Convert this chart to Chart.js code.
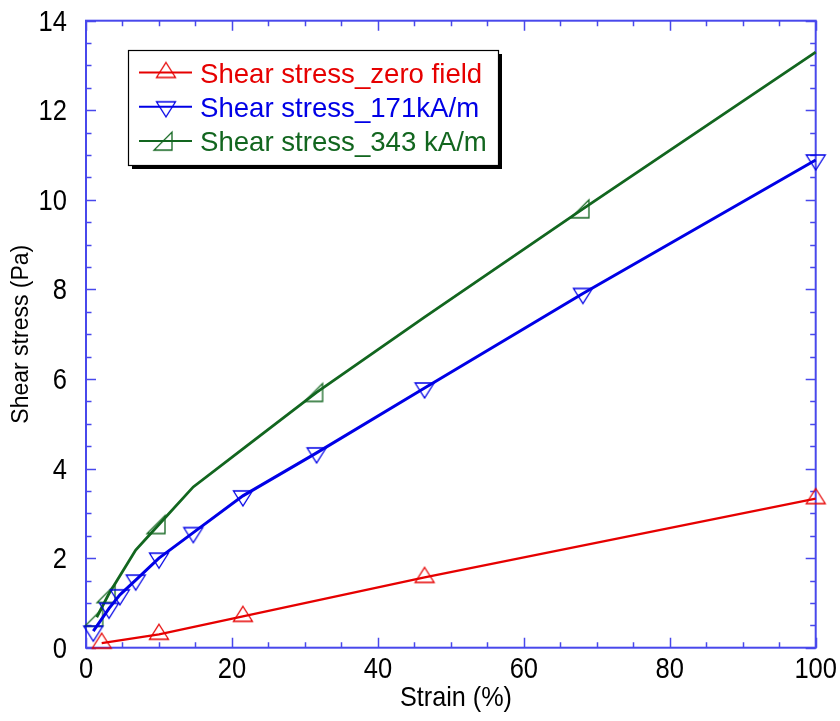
<!DOCTYPE html>
<html>
<head>
<meta charset="utf-8">
<script src="https://cdn.jsdelivr.net/npm/chart.js@4.4.1/dist/chart.umd.min.js"></script>
<style>
  html, body { margin: 0; padding: 0; background: #fff; }
  #wrap { width: 840px; height: 721px; }
</style>
</head>
<body>
<div id="wrap"><canvas id="c" width="840" height="721"></canvas></div>
<script>
// Series names
const seriesNames = ['Shear stress_zero field', 'Shear stress_171kA/m', 'Shear stress_343 kA/m'];

// Zero field
const zeroStrain = [2.15, 10, 21.5, 46.4, 100];
const zeroStress = [0.10, 0.30, 0.70, 1.57, 3.33];

// 171 kA/m
const lowStrain = [1.0, 3.16, 4.64, 6.81, 10, 14.7, 21.5, 31.6, 46.4, 68.1, 100];
const lowStress = [0.37, 0.88, 1.18, 1.51, 2.00, 2.57, 3.39, 4.35, 5.80, 7.91, 10.89];

// 343 kA/m (markers only on some of the points)
const highStrain = [1.47, 3.16, 6.81, 10, 14.7, 21.5, 31.6, 46.4, 68.1, 100];
const highStress = [0.68, 1.21, 2.18, 2.75, 3.59, 4.44, 5.70, 7.38, 9.80, 13.30];
const highMarkedStrain = [1.47, 3.16, 10, 31.6, 68.1];

// Axis tick labels and titles
const xTickValues = [0, 20, 40, 60, 80, 100];
const yTickValues = [0, 2, 4, 6, 8, 10, 12, 14];
const xTitle = 'Strain (%)';
const yTitle = 'Shear stress (Pa)';

const RED = '#e60000';
const BLUE = '#0000e6';
const GREEN = '#12661f';
const AXIS = 'rgb(72,72,236)';
const FONT = '"Liberation Sans", Arial, sans-serif';

function makeMarker(kind, color) {
  const c = document.createElement('canvas');
  c.width = 30; c.height = 30;
  const g = c.getContext('2d');
  g.strokeStyle = color;
  g.lineWidth = 1.3;
  g.lineJoin = 'miter';
  const cx = 15, cy = 15;
  g.beginPath();
  if (kind === 'up') {
    g.moveTo(cx, cy - 10); g.lineTo(cx + 9.5, cy + 5); g.lineTo(cx - 9.5, cy + 5);
  } else if (kind === 'down') {
    g.moveTo(cx - 9.5, cy - 5); g.lineTo(cx + 9.5, cy - 5); g.lineTo(cx, cy + 10);
  } else {
    g.moveTo(cx - 12, cy + 9); g.lineTo(cx + 6, cy + 9); g.lineTo(cx + 6, cy - 9);
  }
  g.closePath();
  g.stroke();
  return c;
}

const markers = [makeMarker('up', RED), makeMarker('down', BLUE), makeMarker('half', GREEN)];

const toPoints = (xs, ys) => xs.map((x, i) => ({ x: x, y: ys[i] }));

// Condensed text: draw with a horizontal squeeze
function squeezedText(ctx, text, x, y, size, sx, align) {
  ctx.save();
  ctx.font = size + 'px ' + FONT;
  ctx.textAlign = align;
  ctx.textBaseline = 'alphabetic';
  ctx.translate(x, y);
  ctx.scale(sx, 1);
  ctx.fillText(text, 0, 0);
  ctx.restore();
}

// Plot frame with inward ticks on all four sides, plus tick labels
const frame = {
  id: 'frame',
  beforeDatasetsDraw(chart) {
    const ctx = chart.ctx;
    const { left, right, top, bottom } = chart.chartArea;
    const xs = chart.scales.x, ys = chart.scales.y;
    ctx.save();
    ctx.strokeStyle = AXIS;
    ctx.lineWidth = 2;
    ctx.strokeRect(left, top, right - left, bottom - top);
    ctx.lineWidth = 1.5;
    ctx.beginPath();
    for (let v = xs.min; v <= xs.max + 1e-9; v += 5) {
      const px = Math.round(xs.getPixelForValue(v)) + 0.5;
      const len = (Math.abs(v % 20) < 1e-9) ? 10 : 5.5;
      ctx.moveTo(px, bottom); ctx.lineTo(px, bottom - len);
      ctx.moveTo(px, top); ctx.lineTo(px, top + len);
    }
    for (let v = ys.min; v <= ys.max + 1e-9; v += 0.5) {
      const py = Math.round(ys.getPixelForValue(v)) + 0.5;
      const len = (Math.abs(v % 2) < 1e-9) ? 10 : 5.5;
      ctx.moveTo(left, py); ctx.lineTo(left + len, py);
      ctx.moveTo(right, py); ctx.lineTo(right - len, py);
    }
    ctx.stroke();

    ctx.fillStyle = '#000';
    xTickValues.forEach(v => {
      squeezedText(ctx, String(v), xs.getPixelForValue(v), bottom + 30.5, 29, 0.88, 'center');
    });
    yTickValues.forEach(v => {
      squeezedText(ctx, String(v), left - 19, ys.getPixelForValue(v) + 10, 29, 0.88, 'right');
    });
    squeezedText(ctx, xTitle, 456, 706, 28, 0.9, 'center');
    ctx.restore();
  }
};

// Boxed legend with drop shadow inside the plot
const legendBox = {
  id: 'legendBox',
  afterDatasetsDraw(chart) {
    const ctx = chart.ctx;
    const x = 128, y = 50, w = 370, h = 115;
    ctx.save();
    ctx.fillStyle = '#000';
    ctx.fillRect(x + 4, y + 4, w, h);
    ctx.fillStyle = '#fff';
    ctx.fillRect(x, y, w, h);
    ctx.strokeStyle = '#000';
    ctx.lineWidth = 1.2;
    ctx.strokeRect(x + 0.5, y + 0.5, w, h);
    chart.data.datasets.forEach((ds, i) => {
      const ry = 72.5 + i * 34.3;
      ctx.strokeStyle = ds.borderColor;
      ctx.lineWidth = 2;
      ctx.beginPath();
      ctx.moveTo(139, ry); ctx.lineTo(192, ry);
      ctx.stroke();
      const m = markers[i];
      ctx.drawImage(m, 166 - m.width / 2, ry - m.height / 2);
      ctx.fillStyle = ds.borderColor;
      ctx.font = '27.6px ' + FONT;
      ctx.textBaseline = 'alphabetic';
      ctx.textAlign = 'left';
      ctx.fillText(ds.label, 200, ry + 10);
    });
    ctx.restore();
  }
};

new Chart(document.getElementById('c'), {
  type: 'scatter',
  data: {
    datasets: [
      {
        label: seriesNames[0],
        data: toPoints(zeroStrain, zeroStress),
        showLine: true, tension: 0, clip: false,
        borderColor: RED, borderWidth: 2.3,
        pointStyle: markers[0], pointRadius: 9
      },
      {
        label: seriesNames[1],
        data: toPoints(lowStrain, lowStress),
        showLine: true, tension: 0, clip: false,
        borderColor: BLUE, borderWidth: 3,
        pointStyle: markers[1], pointRadius: 9
      },
      {
        label: seriesNames[2],
        data: toPoints(highStrain, highStress),
        showLine: true, tension: 0, clip: false,
        borderColor: GREEN, borderWidth: 2.8,
        pointStyle: markers[2],
        pointRadius: ctx => (ctx.raw && highMarkedStrain.includes(ctx.raw.x)) ? 9 : 0
      }
    ]
  },
  options: {
    responsive: false,
    animation: false,
    devicePixelRatio: 1,
    events: [],
    layout: { padding: { top: 20.7, right: 24.3, left: 0, bottom: 0 } },
    plugins: { legend: { display: false }, tooltip: { enabled: false } },
    scales: {
      x: {
        type: 'linear', min: 0, max: 100,
        afterBuildTicks: s => { s.ticks = xTickValues.map(v => ({ value: v })); },
        afterFit: s => { s.height = 73.3; },
        grid: { display: false, drawTicks: false },
        border: { display: false },
        ticks: { display: false },
        title: { display: false }
      },
      y: {
        type: 'linear', min: 0, max: 14,
        afterBuildTicks: s => { s.ticks = yTickValues.map(v => ({ value: v })); },
        afterFit: s => { s.width = 86; },
        grid: { display: false, drawTicks: false },
        border: { display: false },
        ticks: { display: false },
        title: { display: true, text: yTitle, color: '#000', font: { family: FONT, size: 23 }, padding: { top: 8, bottom: 0 } }
      }
    }
  },
  plugins: [frame, legendBox]
});
</script>
</body>
</html>
